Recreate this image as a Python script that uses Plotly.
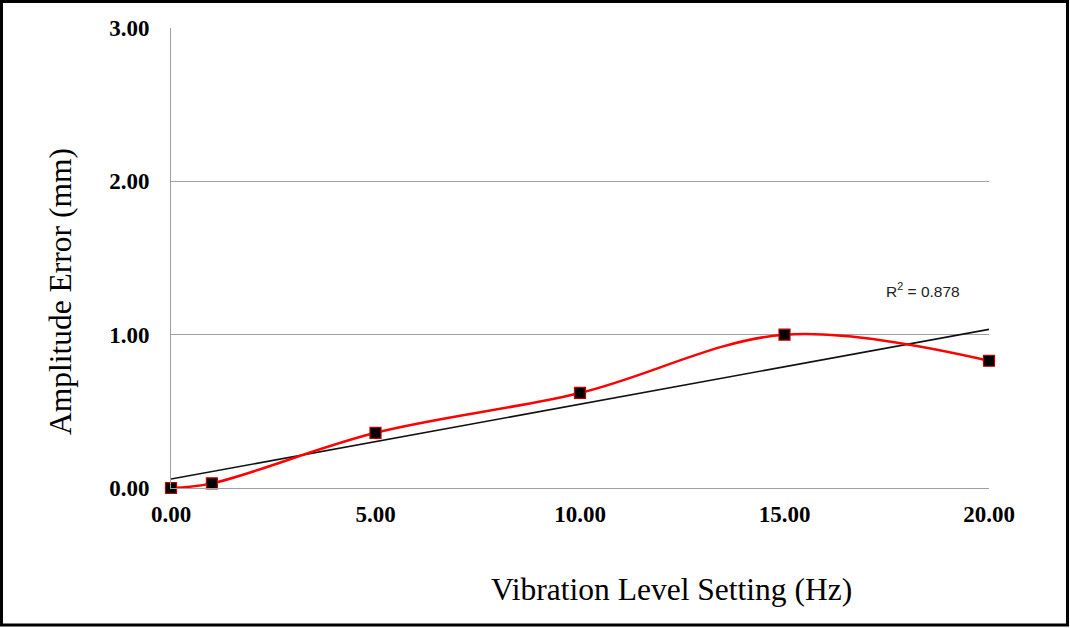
import numpy as np
import plotly.graph_objects as go

x_vals = [0, 1, 5, 10, 15, 20]
y_vals = [0.0, 0.03, 0.36, 0.62, 1.0, 0.83]
x_ticks = [0, 5, 10, 15, 20]
x_tick_labels = ["0.00", "5.00", "10.00", "15.00", "20.00"]
y_ticks = [0, 1, 2, 3]
y_tick_labels = ["0.00", "1.00", "2.00", "3.00"]
r2_text = "R<sup>2</sup> = 0.878"

slope, intercept = np.polyfit(x_vals, y_vals, 1)
trend_x = [x_vals[0], x_vals[-1]]
trend_y = [intercept + slope * v for v in trend_x]

W, H = 1070, 628
L, R, T, B = 171, 81, 28, 140
pw, ph = W - L - R, H - T - B

def px_x(p):
    return (p - L) / pw

def px_y(p):
    return (H - B - p) / ph

fig = go.Figure()
fig.add_trace(go.Scatter(
    x=trend_x, y=trend_y, mode="lines",
    line=dict(color="#111111", width=1.6), showlegend=False, hoverinfo="skip",
))
fig.add_trace(go.Scatter(
    x=x_vals, y=y_vals, mode="lines+markers",
    line=dict(color="#FF0000", width=2.5, shape="spline", smoothing=1.0),
    marker=dict(symbol="square", size=11, color="black",
                line=dict(color="#C00000", width=1.2)),
    cliponaxis=False, showlegend=False,
))

serif = "Liberation Serif, Times New Roman, serif"
fig.update_layout(
    width=W, height=H,
    margin=dict(l=L, r=R, t=T, b=B),
    paper_bgcolor="white", plot_bgcolor="white",
    xaxis=dict(
        range=[0, 20], tickvals=x_ticks, ticktext=x_tick_labels,
        showgrid=False, zeroline=False, showline=True, linecolor="#A0A0A0", linewidth=1,
        ticks="", ticklabelstandoff=5,
        tickfont=dict(family=serif, size=23, color="black", weight="bold"),
    ),
    yaxis=dict(
        range=[0, 3], tickvals=y_ticks, ticktext=y_tick_labels,
        showgrid=True, gridcolor="#A0A0A0", gridwidth=1, zeroline=False,
        showline=True, linecolor="#A0A0A0", linewidth=1,
        ticks="", ticklabelstandoff=16,
        tickfont=dict(family=serif, size=23, color="black", weight="bold"),
    ),
    annotations=[
        dict(text="Vibration Level Setting (Hz)", xref="paper", yref="paper",
             x=px_x(671), y=px_y(589), xanchor="center", yanchor="middle", showarrow=False,
             font=dict(family=serif, size=31.5, color="black")),
        dict(text="Amplitude Error (mm)", xref="paper", yref="paper",
             x=px_x(61), y=px_y(291), xanchor="center", yanchor="middle", showarrow=False,
             textangle=-90,
             font=dict(family=serif, size=31.5, color="black")),
        dict(text=r2_text, xref="paper", yref="paper",
             x=px_x(923), y=px_y(290), xanchor="center", yanchor="middle", showarrow=False,
             font=dict(family="Liberation Sans, Arial, sans-serif", size=15.5, color="#222222")),
    ],
    shapes=[
        dict(type="rect", xref="paper", yref="paper",
             x0=px_x(1.5), x1=px_x(1067.5), y0=px_y(1.5), y1=px_y(625),
             line=dict(color="black", width=3), fillcolor="rgba(0,0,0,0)", layer="above"),
    ],
)

fig.write_html("out.html", config={"displayModeBar": False},
               post_script="document.body.style.margin='0';document.body.style.padding='0';")
